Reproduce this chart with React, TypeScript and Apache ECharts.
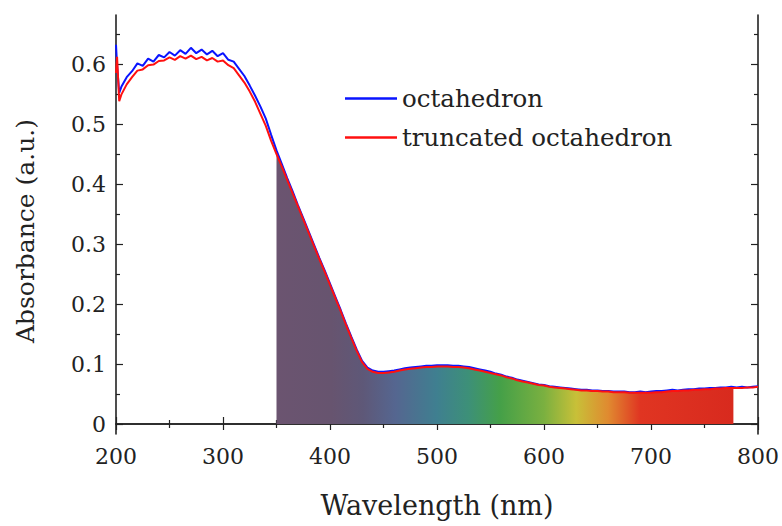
import React, { useEffect, useRef } from "react";
import * as echarts from "echarts";

const wavelengths = [
  200, 201, 203,
  205, 210, 215, 220, 225, 230, 235, 240, 245, 250,
  255, 260, 265, 270, 275, 280, 285, 290, 295, 300,
  305, 310, 315, 320, 325, 330, 335, 340, 345, 350,
  355, 360, 365, 370, 375, 380, 385, 390, 395, 400,
  405, 410, 415, 420, 425, 430, 435, 440, 445, 450,
  455, 460, 465, 470, 475, 480, 485, 490, 495, 500,
  505, 510, 515, 520, 525, 530, 535, 540, 545, 550,
  555, 560, 565, 570, 575, 580, 585, 590, 595, 600,
  605, 610, 615, 620, 625, 630, 635, 640, 645, 650,
  655, 660, 665, 670, 675, 680, 685, 690, 695, 700,
  705, 710, 715, 720, 725, 730, 735, 740, 745, 750,
  755, 760, 765, 770, 775, 780, 785, 790, 795, 800,
];

const octahedron = [
  0.632, 0.598, 0.552,
  0.562, 0.578, 0.588, 0.601, 0.597, 0.609, 0.604, 0.615, 0.611, 0.620,
  0.614, 0.623, 0.617, 0.627, 0.618, 0.624, 0.616, 0.622, 0.613, 0.618,
  0.607, 0.604, 0.592, 0.580, 0.564, 0.547, 0.529, 0.509, 0.482, 0.456,
  0.433, 0.410, 0.388, 0.365, 0.343, 0.321, 0.299, 0.277, 0.256, 0.234,
  0.212, 0.190, 0.167, 0.145, 0.124, 0.105, 0.094, 0.089, 0.087, 0.087,
  0.088, 0.089, 0.091, 0.093, 0.094, 0.095, 0.096, 0.097, 0.097, 0.098,
  0.098, 0.098, 0.097, 0.097, 0.096, 0.095, 0.093, 0.091, 0.089, 0.087,
  0.084, 0.082, 0.079, 0.077, 0.074, 0.072, 0.070, 0.068, 0.066, 0.065,
  0.063, 0.062, 0.061, 0.060, 0.059, 0.058, 0.057, 0.057, 0.056, 0.056,
  0.055, 0.055, 0.054, 0.054, 0.054, 0.053, 0.053, 0.054, 0.053, 0.054,
  0.055, 0.055, 0.056, 0.057, 0.056, 0.057, 0.058, 0.058, 0.059, 0.059,
  0.060, 0.060, 0.061, 0.061, 0.062, 0.061, 0.062, 0.061, 0.062, 0.063,
];

const truncatedOctahedron = [
  0.585, 0.612, 0.538,
  0.549, 0.566, 0.578, 0.589, 0.591, 0.598, 0.599, 0.605, 0.606, 0.611,
  0.607, 0.613, 0.609, 0.614, 0.608, 0.612, 0.606, 0.610, 0.604, 0.606,
  0.598, 0.593, 0.581, 0.569, 0.554, 0.537, 0.517, 0.497, 0.472, 0.450,
  0.429, 0.407, 0.385, 0.363, 0.341, 0.319, 0.297, 0.275, 0.254, 0.232,
  0.210, 0.188, 0.165, 0.143, 0.122, 0.103, 0.092, 0.087, 0.085, 0.085,
  0.086, 0.087, 0.089, 0.091, 0.092, 0.093, 0.094, 0.095, 0.095, 0.096,
  0.096, 0.096, 0.095, 0.095, 0.094, 0.093, 0.091, 0.089, 0.087, 0.085,
  0.083, 0.081, 0.078, 0.076, 0.073, 0.071, 0.069, 0.067, 0.065, 0.064,
  0.062, 0.061, 0.060, 0.059, 0.058, 0.057, 0.056, 0.056, 0.055, 0.055,
  0.054, 0.054, 0.053, 0.053, 0.053, 0.052, 0.052, 0.052, 0.052, 0.052,
  0.053, 0.053, 0.054, 0.055, 0.055, 0.056, 0.056, 0.057, 0.057, 0.058,
  0.058, 0.059, 0.059, 0.060, 0.060, 0.060, 0.060, 0.061, 0.061, 0.062,
];

const seriesNames = ["octahedron", "truncated octahedron"];
const yMajorTicks = [0, 0.1, 0.2, 0.3, 0.4, 0.5, 0.6];
const yMinorTicks = [0.05, 0.15, 0.25, 0.35, 0.45, 0.55, 0.65];
const fillStart = 350;
const fillEnd = 777;

const FONT = "DejaVu Serif";
const INK = "#222222";

export default function App() {
  const ref = useRef<HTMLDivElement>(null);

  useEffect(() => {
    document.body.style.margin = "0";
    if (!ref.current) return;
    const chart = echarts.init(ref.current, null, { renderer: "svg" });

    const blueData = wavelengths.map((w, i) => [w, octahedron[i]]);
    const redData = wavelengths.map((w, i) => [w, truncatedOctahedron[i]]);
    const fillData = redData.filter((p) => p[0] >= fillStart && p[0] <= fillEnd);
    fillData.push([fillEnd, fillData[fillData.length - 1][1]]);

    const axisLine = { show: true, lineStyle: { color: INK, width: 1.6 } };

    const yBase = {
      type: "value",
      min: -1 / 60,
      max: 0.68167,
      splitLine: { show: false },
    };

    const option: any = {
      animation: false,
      backgroundColor: "#ffffff",
      textStyle: { fontFamily: FONT },
      grid: { left: 116, top: 15, right: 22, bottom: 92, containLabel: false },
      legend: {
        data: seriesNames,
        orient: "vertical",
        left: 340,
        top: 79,
        icon: "rect",
        itemWidth: 52,
        itemHeight: 2.5,
        itemGap: 10,
        textStyle: { fontFamily: FONT, fontSize: 24.5, color: INK, lineHeight: 29 },
      },
      xAxis: [
        {
          type: "value",
          position: "bottom",
          min: 200,
          max: 800,
          interval: 100,
          axisLine,
          axisTick: { show: true, inside: true, length: 7, lineStyle: { color: INK, width: 1.2 } },
          minorTick: { show: true, splitNumber: 2, length: 4, lineStyle: { color: INK, width: 1.2 } },
          axisLabel: { fontFamily: FONT, fontSize: 22, color: INK, margin: 11 },
          splitLine: { show: false },
          name: "Wavelength (nm)",
          nameLocation: "middle",
          nameGap: 58,
          nameTextStyle: { fontFamily: FONT, fontSize: 27, color: INK },
        },
        {
          type: "value",
          position: "top",
          min: 200,
          max: 800,
          interval: 100,
          axisLine,
          axisTick: { show: true, inside: true, length: 6, lineStyle: { color: INK, width: 1.2 } },
          minorTick: { show: true, splitNumber: 2, length: 4, lineStyle: { color: INK, width: 1.2 } },
          axisLabel: { show: false },
          splitLine: { show: false },
        },
      ],
      yAxis: [
        {
          ...yBase,
          position: "left",
          axisLine,
          axisTick: {
            show: true,
            inside: true,
            length: 7,
            customValues: yMajorTicks,
            lineStyle: { color: INK, width: 1.2 },
          },
          axisLabel: {
            customValues: yMajorTicks,
            fontFamily: FONT,
            fontSize: 22,
            color: INK,
            margin: 10,
            formatter: (v: number) => (Math.abs(v) < 1e-9 ? "0" : v.toFixed(1)),
          },
          name: "Absorbance (a.u.)",
          nameLocation: "middle",
          nameGap: 78,
          nameTextStyle: { fontFamily: FONT, fontSize: 25, color: INK, padding: [0, 13, 0, 0] },
        },
        {
          ...yBase,
          position: "left",
          axisLine: { show: false },
          axisTick: {
            show: true,
            inside: true,
            length: 4,
            customValues: yMinorTicks,
            lineStyle: { color: INK, width: 1.2 },
          },
          axisLabel: { show: false },
        },
        {
          ...yBase,
          position: "right",
          axisLine,
          axisTick: {
            show: true,
            inside: true,
            length: 7,
            customValues: yMajorTicks,
            lineStyle: { color: INK, width: 1.2 },
          },
          axisLabel: { show: false },
        },
        {
          ...yBase,
          position: "right",
          axisLine: { show: false },
          axisTick: {
            show: true,
            inside: true,
            length: 4,
            customValues: yMinorTicks,
            lineStyle: { color: INK, width: 1.2 },
          },
          axisLabel: { show: false },
        },
      ],
      series: [
        {
          name: "spectrum",
          type: "line",
          data: fillData,
          symbol: "none",
          silent: true,
          lineStyle: { width: 0, opacity: 0 },
          areaStyle: {
            opacity: 1,
            color: new echarts.graphic.LinearGradient(0, 0, 1, 0, [
              { offset: 0, color: "#6b5470" },
              { offset: 0.12, color: "#67546f" },
              { offset: 0.19, color: "#5e5878" },
              { offset: 0.26, color: "#556690" },
              { offset: 0.35, color: "#3f7f90" },
              { offset: 0.42, color: "#3d9078" },
              { offset: 0.49, color: "#45a048" },
              { offset: 0.585, color: "#7ab040" },
              { offset: 0.656, color: "#c8c038" },
              { offset: 0.726, color: "#e08a30" },
              { offset: 0.796, color: "#e03522" },
              { offset: 1, color: "#d82a1e" },
            ]),
          },
          z: 1,
        },
        {
          name: seriesNames[0],
          type: "line",
          data: blueData,
          symbol: "none",
          color: "#0a14ff",
          lineStyle: { color: "#0a14ff", width: 2 },
          z: 2,
        },
        {
          name: seriesNames[1],
          type: "line",
          data: redData,
          symbol: "none",
          color: "#ff1010",
          lineStyle: { color: "#ff1010", width: 2 },
          z: 3,
        },
      ],
    };

    chart.setOption(option);
    return () => chart.dispose();
  }, []);

  return <div ref={ref} style={{ width: 782, height: 526 }} />;
}
